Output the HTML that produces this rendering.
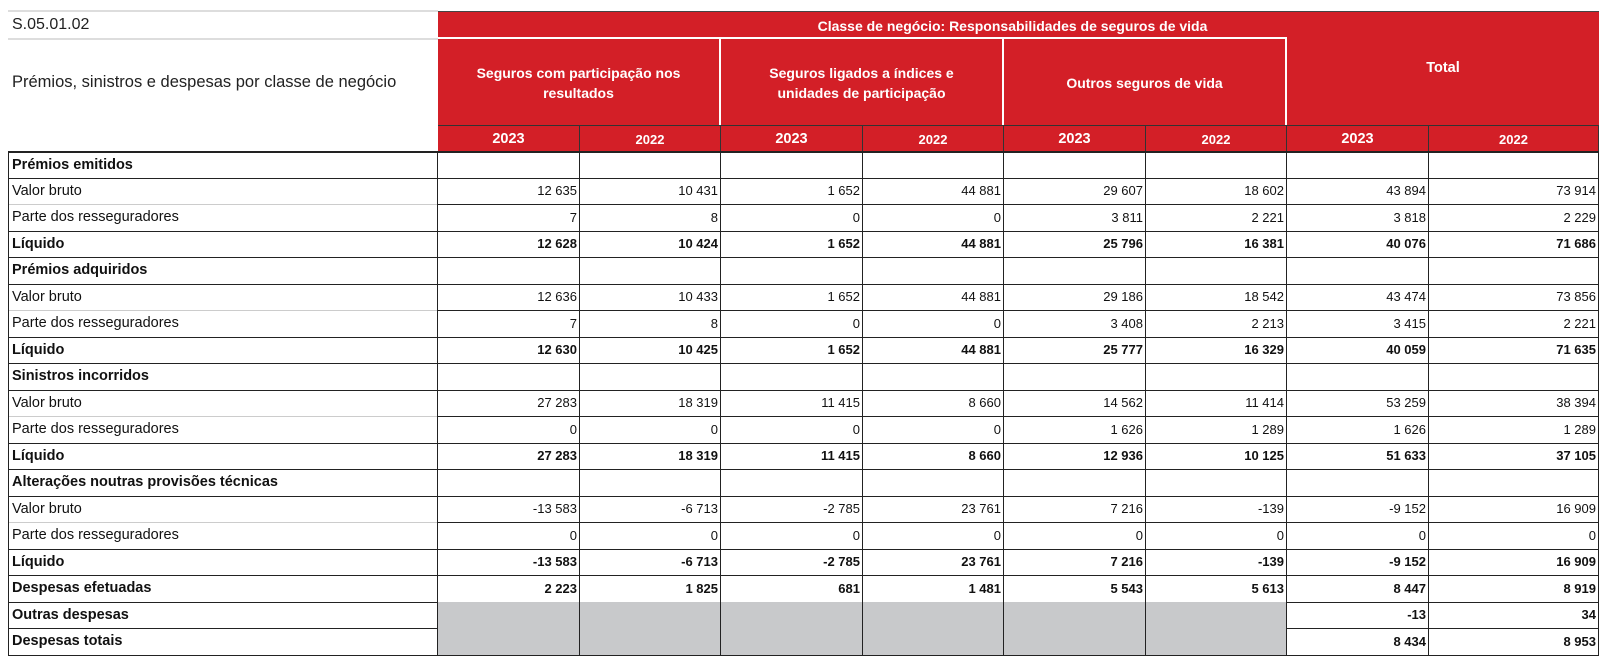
<!DOCTYPE html>
<html style="margin:0;padding:0;width:1599px;height:666px;overflow:hidden"><head><meta charset="utf-8"><style>
body{margin:0;width:1599px;height:666px;background:#fff;position:relative;overflow:hidden;font-family:"Liberation Sans",Arial,sans-serif}
.a{position:absolute;box-sizing:border-box;overflow:hidden}
.red{background:#d31f27;color:#fff;font-weight:bold;display:flex;align-items:center;justify-content:center;text-align:center}
.c{font-size:13px;display:flex;align-items:center;justify-content:flex-end;padding-right:2px;border-right:1px solid #222;border-bottom:1px solid #222;color:#111}
.l{font-size:14.5px;display:flex;align-items:center;padding-left:3px;color:#111}
.b{font-weight:bold}
.g{background:#c8c9cb}
</style></head><body>
<div class="a" style="left:8px;top:10px;width:430px;height:2px;background:#ddd"></div>
<div class="a" style="left:12px;top:12px;height:26px;line-height:26px;font-size:16px;color:#222">S.05.01.02</div>
<div class="a" style="left:8px;top:38px;width:430px;height:2px;background:#ddd"></div>
<div class="a" style="left:8px;top:40px;width:430px;height:85px;display:flex;align-items:center;font-size:16.5px;color:#222;padding-left:4px;white-space:nowrap">Prémios, sinistros e despesas por classe de negócio</div>
<div class="a red" style="left:438px;top:11px;width:1161px;height:115px;align-items:flex-start;padding-top:6px;font-size:14px;border-top:1px solid #444"><span style="margin-right:12px">Classe de negócio: Responsabilidades de seguros de vida</span></div>
<div class="a red" style="left:438px;top:37px;width:283px;height:89px;border:2px solid #fff;border-left:none;border-bottom:none;font-size:14px;line-height:20px">Seguros com participação nos<br>resultados</div>
<div class="a red" style="left:721px;top:37px;width:283px;height:89px;border-top:2px solid #fff;border-right:2px solid #fff;font-size:14px;line-height:20px">Seguros ligados a índices e<br>unidades de participação</div>
<div class="a red" style="left:1004px;top:37px;width:283px;height:89px;border-top:2px solid #fff;border-right:2px solid #fff;font-size:14px">Outros seguros de vida</div>
<div class="a red" style="left:1287px;top:40px;width:312px;height:56px;font-size:14.5px;background:transparent">Total</div>
<div id="t"></div>
<script>
const xs=[438,580,721,863,1004,1146,1287,1429,1599];
const years=["2023","2022","2023","2022","2023","2022","2023","2022"];
const labels=["Prémios emitidos","Valor bruto","Parte dos resseguradores","Líquido","Prémios adquiridos","Valor bruto","Parte dos resseguradores","Líquido","Sinistros incorridos","Valor bruto","Parte dos resseguradores","Líquido","Alterações noutras provisões técnicas","Valor bruto","Parte dos resseguradores","Líquido","Despesas efetuadas","Outras despesas","Despesas totais"];
const bold=[1,0,0,1,1,0,0,1,1,0,0,1,1,0,0,1,1,1,1];
const G="g";
const values=[
[],
["12 635","10 431","1 652","44 881","29 607","18 602","43 894","73 914"],
["7","8","0","0","3 811","2 221","3 818","2 229"],
["12 628","10 424","1 652","44 881","25 796","16 381","40 076","71 686"],
[],
["12 636","10 433","1 652","44 881","29 186","18 542","43 474","73 856"],
["7","8","0","0","3 408","2 213","3 415","2 221"],
["12 630","10 425","1 652","44 881","25 777","16 329","40 059","71 635"],
[],
["27 283","18 319","11 415","8 660","14 562","11 414","53 259","38 394"],
["0","0","0","0","1 626","1 289","1 626","1 289"],
["27 283","18 319","11 415","8 660","12 936","10 125","51 633","37 105"],
[],
["-13 583","-6 713","-2 785","23 761","7 216","-139","-9 152","16 909"],
["0","0","0","0","0","0","0","0"],
["-13 583","-6 713","-2 785","23 761","7 216","-139","-9 152","16 909"],
["2 223","1 825","681","1 481","5 543","5 613","8 447","8 919"],
[G,G,G,G,G,G,"-13","34"],
[G,G,G,G,G,G,"8 434","8 953"]
];
const valBold=[1,0,0,1,1,0,0,1,1,0,0,1,1,0,0,1,1,1,1];
const t=document.getElementById('t');
function mk(cls,l,tp,w,h,txt){const d=document.createElement('div');d.className='a '+cls;d.style.cssText=`left:${l}px;top:${tp}px;width:${w}px;height:${h}px`;if(txt)d.textContent=txt;t.appendChild(d);return d;}
years.forEach((y,i)=>{const d=mk('red',xs[i],125,xs[i+1]-xs[i],27,y);


d.style.fontSize=(y==="2023"?'14.5px':'13px');d.style.borderRight='1px solid #333';d.style.borderTop='1px solid #333';});
const y0=151,rh=26.5;
labels.forEach((lab,r)=>{const top=y0+r*rh;
const L=mk('l'+(bold[r]?' b':''),8,top,430,rh+1,lab);


L.style.borderLeft='1.5px solid #222';L.style.borderRight='1.5px solid #222';
const dark=bold[r]||r==labels.length-1||(r+1<labels.length&&bold[r+1]);
L.style.borderBottom=dark?'1.5px solid #222':'1px solid #ccc';
if(r==0)L.style.borderTop='2px solid #222';
for(let c=0;c<8;c++){const v=values[r][c];const C=mk('c'+(v===G?' g':'')+(valBold[r]?' b':''),xs[c],top,xs[c+1]-xs[c],rh+1,v&&v!==G?v:'');


if(r==0)C.style.borderTop='2px solid #222';}
});
</script>
</body></html>
